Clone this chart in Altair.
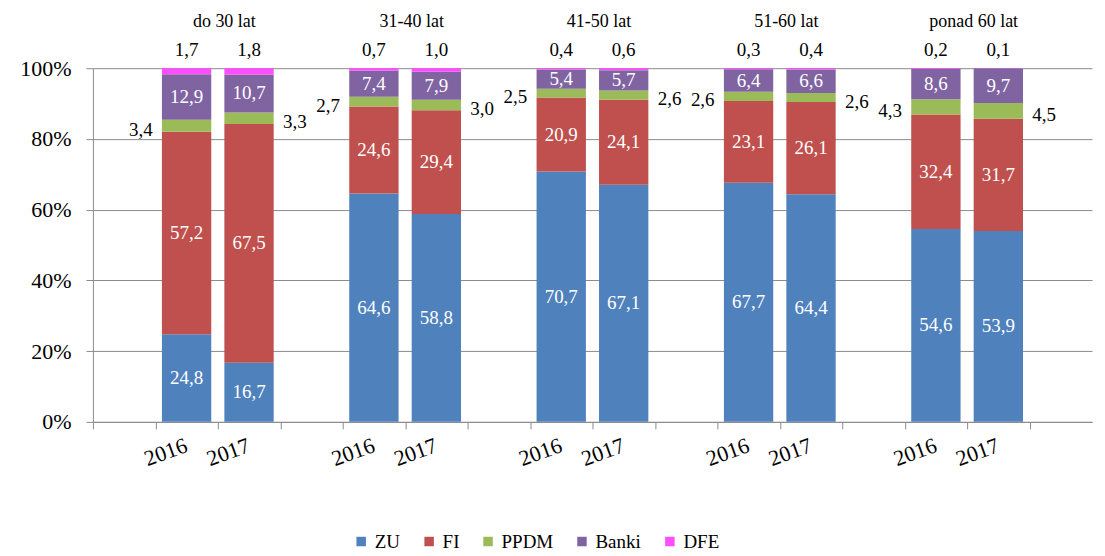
import altair as alt
import pandas as pd

groups = ["do 30 lat", "31-40 lat", "41-50 lat", "51-60 lat", "ponad 60 lat"]
years = ["2016", "2017"]
series = ["ZU", "FI", "PPDM", "Banki", "DFE"]
colors = ["#4F81BD", "#C0504D", "#9BBB59", "#8064A2", "#FF4DFF"]

# values in order: (group, year) flattened
ZU = [24.8, 16.7, 64.6, 58.8, 70.7, 67.1, 67.7, 64.4, 54.6, 53.9]
FI = [57.2, 67.5, 24.6, 29.4, 20.9, 24.1, 23.1, 26.1, 32.4, 31.7]
PPDM = [3.4, 3.3, 2.7, 3.0, 2.5, 2.6, 2.6, 2.6, 4.3, 4.5]
Banki = [12.9, 10.7, 7.4, 7.9, 5.4, 5.7, 6.4, 6.6, 8.6, 9.7]
DFE = [1.7, 1.8, 0.7, 1.0, 0.4, 0.6, 0.3, 0.4, 0.2, 0.1]
values = {"ZU": ZU, "FI": FI, "PPDM": PPDM, "Banki": Banki, "DFE": DFE}

slots = []
for i, g in enumerate(groups):
    slots += [f"blank{i}", f"{g} 2016", f"{g} 2017"]
slots.append("blank5")

rows = []
k = 0
for g in groups:
    for y in years:
        for o, s in enumerate(series):
            v = values[s][k]
            rows.append({"slot": f"{g} {y}", "group": g, "year": y, "series": s,
                         "order": o, "value": v, "label": f"{v:.1f}".replace(".", ",")})
        k += 1
df = pd.DataFrame(rows)
titles = pd.DataFrame({"group": groups, "slot": [f"{g} 2017" for g in groups],
                       "top": [1.0] * len(groups)})

FONT = "Liberation Serif"
GRAY = "#8C8C8C"
W = 1000
HALF_STEP = W / len(slots) / 2

xscale = alt.Scale(domain=slots, paddingInner=0.21, paddingOuter=0.105)
yscale = alt.Scale(domain=[0, 1])

base = alt.Chart(df).transform_stack(
    stack="value", groupby=["slot"], as_=["y0", "y1"], offset="normalize",
    sort=[alt.SortField("order", "ascending")]
).transform_calculate(mid="(datum.y0 + datum.y1) / 2")

xenc = alt.X("slot:N", scale=xscale, title=None,
             axis=alt.Axis(labelExpr="indexof(datum.value, '2016') >= 0 ? '2016' : (indexof(datum.value, '2017') >= 0 ? '2017' : '')",
                           labelAngle=-20, labelAlign="right", labelBaseline="top",
                           labelFont=FONT, labelFontSize=22, labelColor="black",
                           labelPadding=6, labelOverlap=False,
                           tickOffset=-HALF_STEP, labelOffset=HALF_STEP - 4,
                           tickSize=7, tickColor=GRAY,
                           domainColor=GRAY, grid=False))

bars = base.mark_bar().encode(
    x=xenc,
    y=alt.Y("y0:Q", scale=yscale, title=None,
            axis=alt.Axis(format="%", values=[0, 0.2, 0.4, 0.6, 0.8, 1.0],
                          labelFont=FONT, labelFontSize=22, labelColor="black",
                          labelPadding=15, tickSize=7, tickColor=GRAY,
                          domainColor=GRAY, grid=True, gridColor=GRAY,
                          minExtent=80, maxExtent=80)),
    y2="y1:Q",
    color=alt.Color("series:N", scale=alt.Scale(domain=series, range=colors),
                    legend=alt.Legend(title=None, orient="none", direction="horizontal",
                                      legendX=259, legendY=464, padding=0,
                                      symbolType="square", symbolSize=90,
                                      labelFont=FONT, labelFontSize=19, labelColor="black",
                                      labelOffset=4, columnPadding=19)),
)

inner = base.transform_filter(
    alt.FieldOneOfPredicate(field="series", oneOf=["ZU", "FI", "Banki"])
).mark_text(color="white", font=FONT, fontSize=19, baseline="middle").encode(
    x=alt.X("slot:N", scale=xscale), y=alt.Y("mid:Q", scale=yscale), text="label:N")

ppdm16 = base.transform_filter(
    "datum.series == 'PPDM' && datum.year == '2016'"
).mark_text(color="black", font=FONT, fontSize=19, baseline="middle", align="right",
            dx=-34, dy=4).encode(
    x=alt.X("slot:N", scale=xscale), y=alt.Y("mid:Q", scale=yscale), text="label:N")

ppdm17 = base.transform_filter(
    "datum.series == 'PPDM' && datum.year == '2017'"
).mark_text(color="black", font=FONT, fontSize=19, baseline="middle", align="left",
            dx=34, dy=4).encode(
    x=alt.X("slot:N", scale=xscale), y=alt.Y("mid:Q", scale=yscale), text="label:N")

dfe = base.transform_filter(
    "datum.series == 'DFE'"
).mark_text(color="black", font=FONT, fontSize=19, baseline="middle", dy=-18).encode(
    x=alt.X("slot:N", scale=xscale), y=alt.Y("y1:Q", scale=yscale), text="label:N")

title_text = alt.Chart(titles).mark_text(
    color="black", font=FONT, fontSize=18, baseline="middle", dy=-46
).encode(
    x=alt.X("slot:N", scale=xscale, bandPosition=0),
    y=alt.Y("top:Q", scale=yscale),
    text="group:N",
)

chart = alt.layer(bars, inner, ppdm16, ppdm17, dfe, title_text).properties(
    width=W, height=354,
).configure_view(strokeWidth=0)

chart.save("out.html", embed_options={"renderer": "svg", "actions": False})
